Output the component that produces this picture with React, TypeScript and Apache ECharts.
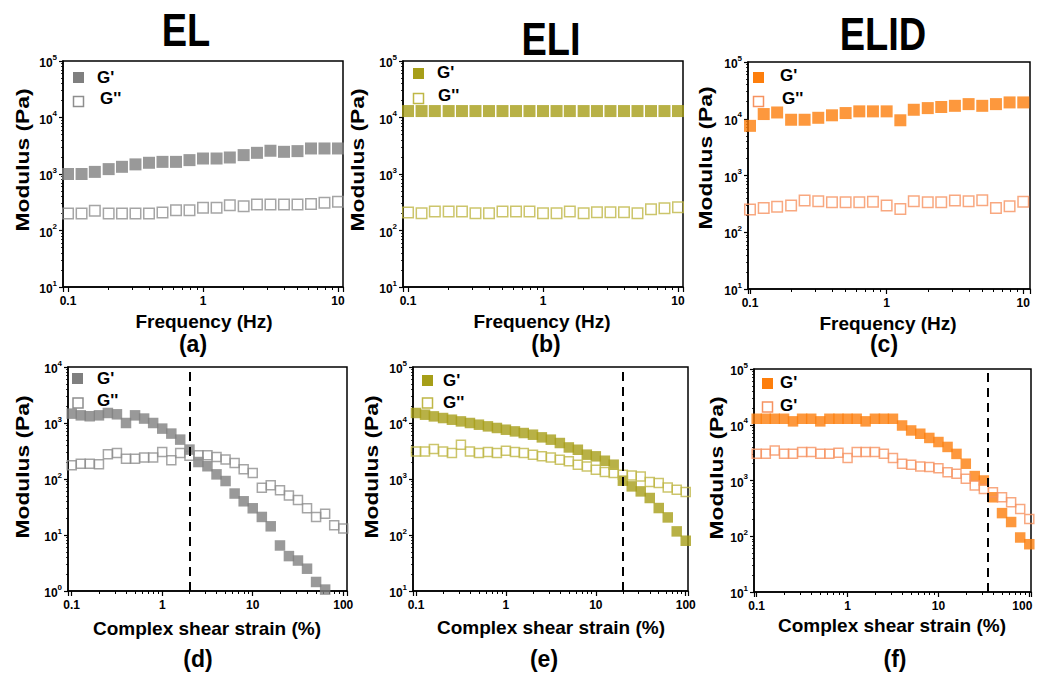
import React, { useEffect, useRef } from "react";
import * as echarts from "echarts";

// ---------- data ----------
const frequency = [0.1, 0.126, 0.158, 0.2, 0.251, 0.316, 0.398, 0.501, 0.631, 0.794, 1, 1.26, 1.58, 2, 2.51, 3.16, 3.98, 5.01, 6.31, 7.94, 10];
const strain = [0.1, 0.126, 0.158, 0.2, 0.251, 0.316, 0.398, 0.501, 0.631, 0.794, 1, 1.26, 1.58, 2, 2.51, 3.16, 3.98, 5.01, 6.31, 7.94, 10, 12.6, 15.8, 20, 25.1, 31.6, 39.8, 50.1, 63.1, 79.4, 100];

const elFreqGp = [1000, 1000, 1090, 1220, 1340, 1480, 1580, 1640, 1640, 1760, 1880, 1880, 1960, 2160, 2370, 2580, 2470, 2540, 2830, 2830, 2830];
const elFreqGpp = [200, 200, 223, 200, 200, 200, 200, 208, 229, 229, 252, 252, 281, 270, 289, 289, 289, 289, 293, 309, 322];
const eliFreqGp = [13000, 13000, 13000, 13000, 13000, 13000, 13000, 13000, 13000, 13000, 13000, 13000, 13000, 13000, 13000, 13000, 13000, 13000, 13000, 13000, 13000];
const eliFreqGpp = [208, 202, 217, 217, 217, 202, 202, 217, 217, 217, 202, 202, 217, 202, 211, 211, 211, 202, 238, 248, 258];
const elidFreqGp = [7500, 12100, 12900, 9600, 9600, 10400, 11500, 12600, 13500, 13500, 13500, 9400, 14400, 15400, 16100, 16900, 18100, 16900, 18100, 19400, 19400];
const elidFreqGpp = [251, 268, 280, 295, 361, 352, 338, 338, 338, 343, 295, 258, 352, 338, 338, 361, 352, 366, 268, 287, 343];

const elStrainGp = [1470, 1370, 1320, 1370, 1510, 1430, 1000, 1370, 1200, 1000, 794, 647, 505, 335, 201, 169, 121, 92, 55, 40, 30, 21, 14.3, 6.5, 4.2, 3.5, 2.5, 1.45, 1.06, null, null];
const elStrainGpp = [176, 188, 188, 183, 276, 291, 231, 231, 241, 241, 303, 216, 291, 260, 265, 265, 247, 222, 193, 150, 128, 70, 77, 63, 51, 42, 30, 21, 24, 15, 13];
const eliStrainGp = [15100, 14070, 13130, 12270, 11450, 10680, 10000, 9330, 8710, 8150, 7590, 7080, 6620, 6180, 5540, 5040, 4390, 3660, 3330, 2720, 2540, 2120, 1800, 933, 738, 601, 458, 303, 206, 116, 79];
const eliStrainGpp = [3110, 3110, 3430, 3110, 2910, 4090, 3110, 2910, 3030, 2910, 3200, 3030, 2910, 2720, 2540, 2430, 2210, 2070, 1800, 1680, 1460, 1330, 1280, 1190, 1160, 1110, 884, 849, 708, 644, 586];
const elidStrainGp = [12800, 12800, 12800, 12800, 11500, 12800, 12800, 11500, 12800, 12800, 12800, 12800, 11500, 12800, 12800, 12800, 9700, 7900, 6900, 5800, 4900, 4000, 3000, 2000, 1200, 1000, 500, 260, 180, 95, 72];
const elidStrainGpp = [3010, 3010, 3450, 3010, 3010, 3230, 3230, 3010, 3010, 3130, 2520, 3230, 3230, 3230, 3010, 2520, 1990, 1910, 1780, 1740, 1660, 1410, 1320, 1070, 811, 706, 615, 500, 407, 309, 204];

const titles = ["EL", "ELI", "ELID"];
const panelLabels = ["(a)", "(b)", "(c)", "(d)", "(e)", "(f)"];
const legendNames = [["G'", "G''"], ["G'", "G''"], ["G'", "G''"], ["G'", "G''"], ["G'", "G''"], ["G'", "G'"]];
const criticalStrain = [2, 20, 35];
const xTickLabels = ["0.1", "1", "10", "100"]; // for 10^-1 .. 10^2
const yTickExponents = ["0", "1", "2", "3", "4", "5"];
const xAxisNames = ["Frequency (Hz)", "Complex shear strain (%)"];
const yAxisName = "Modulus (Pa)";

// ---------- styling ----------
const FONT = "'Liberation Sans', Arial, Helvetica, sans-serif";
const GRAY = "#7f7f7f";
const GRAY_OPEN = "#8e8e8e";
const OLIVE = "#a69e18";
const OLIVE_OPEN = "#bfb746";
const ORANGE = "#fd7e0c";
const ORANGE_OPEN = "#f69260";

type Panel = {
  grid: { left: number; top: number; width: number; height: number };
  xMin: number; xMax: number; yMin: number; yMax: number;
  x: number[]; gp: (number | null)[]; gpp: (number | null)[];
  fill: string; stroke: string; size: number;
  leg: number[]; // sq1x, sq1y, t1x, t1y, sq2x, sq2y, t2x, t2y
  xName: number[]; yName: number[]; label: number[];
  crit?: number;
  edgeLabel?: boolean;
};

const panels: Panel[] = [
  { grid: { left: 63, top: 61, width: 280, height: 226 }, xMin: 0.0918, xMax: 10.89, yMin: 10, yMax: 1e5, x: frequency, gp: elFreqGp, gpp: elFreqGpp, fill: GRAY, stroke: GRAY_OPEN, size: 12,
    leg: [73, 72, 97, 77, 73.5, 96.5, 100, 98], xName: [204, 321], yName: [22, 160], label: [193, 344] },
  { grid: { left: 403, top: 61, width: 280, height: 226 }, xMin: 0.0918, xMax: 10.89, yMin: 10, yMax: 1e5, x: frequency, gp: eliFreqGp, gpp: eliFreqGpp, fill: OLIVE, stroke: OLIVE_OPEN, size: 12,
    leg: [413, 68, 437, 72, 413.5, 93.5, 438, 95], xName: [542, 321], yName: [357, 160], label: [546, 344] },
  { grid: { left: 748, top: 62, width: 282, height: 227 }, xMin: 0.0967, xMax: 11.2, yMin: 10, yMax: 1e5, x: frequency, gp: elidFreqGp, gpp: elidFreqGpp, fill: ORANGE, stroke: ORANGE_OPEN, size: 12,
    leg: [753, 72, 780, 75, 753.5, 96.5, 782, 98], xName: [888, 323], yName: [705, 158], label: [884, 344] },
  { grid: { left: 68, top: 367, width: 279, height: 224 }, xMin: 0.091, xMax: 110, yMin: 1, yMax: 1e4, x: strain, gp: elStrainGp, gpp: elStrainGpp, fill: GRAY, stroke: GRAY_OPEN, size: 10.5,
    leg: [72, 373, 97, 378, 73, 398, 97, 400], xName: [207, 628], yName: [22, 467], label: [198, 659], crit: criticalStrain[0] },
  { grid: { left: 413, top: 367, width: 275, height: 224 }, xMin: 0.0926, xMax: 106, yMin: 10, yMax: 1e5, x: strain, gp: eliStrainGp, gpp: eliStrainGpp, fill: OLIVE, stroke: OLIVE_OPEN, size: 10.5,
    leg: [422, 375, 443, 380, 422.5, 398, 443, 402], xName: [551, 627], yName: [371, 467], label: [544, 659], crit: criticalStrain[1] },
  { grid: { left: 754, top: 369, width: 277, height: 223 }, xMin: 0.0934, xMax: 104.4, yMin: 10, yMax: 1e5, x: strain, gp: elidStrainGp, gpp: elidStrainGpp, fill: ORANGE, stroke: ORANGE_OPEN, size: 10.5,
    leg: [762, 378, 780, 382, 762.5, 402, 780, 405], xName: [892, 625], yName: [716, 468], label: [895, 659], crit: criticalStrain[2], edgeLabel: true },
];

const titlePos = [[186, 30], [551, 39], [883, 34]];

function isPow10(v: number) {
  const l = Math.log10(v);
  return Math.abs(l - Math.round(l)) < 1e-6;
}

function pairs(x: number[], y: (number | null)[]) {
  const out: number[][] = [];
  x.forEach((v, i) => {
    const w = y[i];
    if (w != null) out.push([v, w]);
  });
  return out;
}

function buildOption(): any {
  const grid: any[] = [];
  const xAxis: any[] = [];
  const yAxis: any[] = [];
  const series: any[] = [];
  const graphic: any[] = [];

  const axisLine = { show: true, lineStyle: { color: "#000", width: 1.5 } };
  const tickText = { fontSize: 12, fontWeight: "bold", fontFamily: FONT, color: "#000" };

  panels.forEach((p, i) => {
    grid.push({ ...p.grid, show: true, borderColor: "#000", borderWidth: 1.5, backgroundColor: "transparent", containLabel: false, outerBoundsMode: "none" });
    xAxis.push({
      type: "log", logBase: 10, gridIndex: i, min: p.xMin, max: p.xMax,
      axisLine, splitLine: { show: false },
      axisTick: { show: true, inside: false, length: 5, lineStyle: { color: "#000", width: 1.2 } },
      minorTick: { show: true, splitNumber: 9, length: 3, lineStyle: { color: "#000", width: 1 } },
      axisLabel: {
        ...tickText, margin: 8,
        formatter: (v: number) => {
          if (!isPow10(v)) return "";
          const e = Math.round(Math.log10(v));
          const t = xTickLabels[e + 1];
          // keep the last label of the right-most panel inside the page
          return p.edgeLabel && e === 2 ? "{r|" + t + "}" : "{n|" + t + "}";
        },
        rich: { n: { ...tickText }, r: { ...tickText, padding: [0, 14, 0, 0] } },
      },
    });
    yAxis.push({
      type: "log", logBase: 10, gridIndex: i, min: p.yMin, max: p.yMax,
      axisLine, splitLine: { show: false },
      axisTick: { show: true, inside: false, length: 4, lineStyle: { color: "#000", width: 1.2 } },
      minorTick: { show: true, splitNumber: 9, length: 2, lineStyle: { color: "#000", width: 0.8 } },
      axisLabel: {
        color: "#000", fontFamily: FONT, margin: 6,
        formatter: (v: number) => (isPow10(v) ? "{b|10}{s|" + yTickExponents[Math.round(Math.log10(v))] + "}" : ""),
        rich: {
          b: { fontSize: 12, fontWeight: "bold", fontFamily: FONT, color: "#000", lineHeight: 16, verticalAlign: "bottom" },
          s: { fontSize: 8, fontWeight: "bold", fontFamily: FONT, color: "#000", lineHeight: 16, verticalAlign: "top" },
        },
      },
    });
    const names = legendNames[i];
    const gpSeries: any = {
      type: "scatter", name: names[0], xAxisIndex: i, yAxisIndex: i,
      symbol: "rect", symbolSize: p.size, itemStyle: { color: p.fill },
      data: pairs(p.x, p.gp), z: 3,
    };
    if (p.crit != null) {
      gpSeries.markLine = {
        silent: true, symbol: ["none", "none"], label: { show: false },
        lineStyle: { color: "#000", type: [9, 6], width: 2 },
        data: [{ xAxis: p.crit }],
      };
    }
    series.push(gpSeries);
    series.push({
      type: "scatter", name: names[1], xAxisIndex: i, yAxisIndex: i,
      symbol: "rect", symbolSize: p.size - 1.5,
      itemStyle: { color: "rgba(255,255,255,0)", borderColor: p.stroke, borderWidth: 1.5 },
      data: pairs(p.x, p.gpp), z: 4,
    });

    // legend
    const L = p.leg;
    graphic.push({ type: "rect", shape: { x: L[0], y: L[1], width: 11, height: 11 }, style: { fill: p.fill } });
    graphic.push({ type: "rect", shape: { x: L[4], y: L[5], width: 10, height: 10 }, style: { fill: "none", stroke: p.stroke, lineWidth: 1.5 } });
    graphic.push({ type: "text", x: L[2], y: L[3], style: { text: names[0], fill: "#000", fontSize: 17, fontWeight: "bold", fontFamily: FONT, align: "left", verticalAlign: "middle" } });
    graphic.push({ type: "text", x: L[6], y: L[7], style: { text: names[1], fill: "#000", fontSize: 17, fontWeight: "bold", fontFamily: FONT, align: "left", verticalAlign: "middle" } });

    // axis names
    graphic.push({ type: "text", x: p.xName[0], y: p.xName[1], style: { text: xAxisNames[i < 3 ? 0 : 1], fill: "#000", fontSize: 19, fontWeight: "bold", fontFamily: FONT, align: "center", verticalAlign: "middle" } });
    graphic.push({ type: "text", x: p.yName[0], y: p.yName[1], rotation: Math.PI / 2, scaleX: 1.2, style: { text: yAxisName, fill: "#000", fontSize: 19, fontWeight: "bold", fontFamily: FONT, align: "center", verticalAlign: "middle" } });
    // panel label
    graphic.push({ type: "text", x: p.label[0], y: p.label[1], style: { text: panelLabels[i], fill: "#000", fontSize: 23, fontWeight: "bold", fontFamily: FONT, align: "center", verticalAlign: "middle" } });
  });

  titles.forEach((t, i) => {
    graphic.push({ type: "text", x: titlePos[i][0], y: titlePos[i][1], scaleY: 1.22, style: { text: t, fill: "#000", fontSize: 38, fontWeight: "bold", fontFamily: FONT, align: "center", verticalAlign: "middle" } });
  });

  return { animation: false, backgroundColor: "#fff", grid, xAxis, yAxis, series, graphic };
}

export default function App() {
  const ref = useRef<HTMLDivElement>(null);
  useEffect(() => {
    if (!ref.current) return;
    const chart = echarts.init(ref.current, undefined, { renderer: "svg" });
    chart.setOption(buildOption());
    return () => chart.dispose();
  }, []);
  return <div ref={ref} style={{ position: "fixed", left: 0, top: 0, width: 1037, height: 675, background: "#fff" }} />;
}
